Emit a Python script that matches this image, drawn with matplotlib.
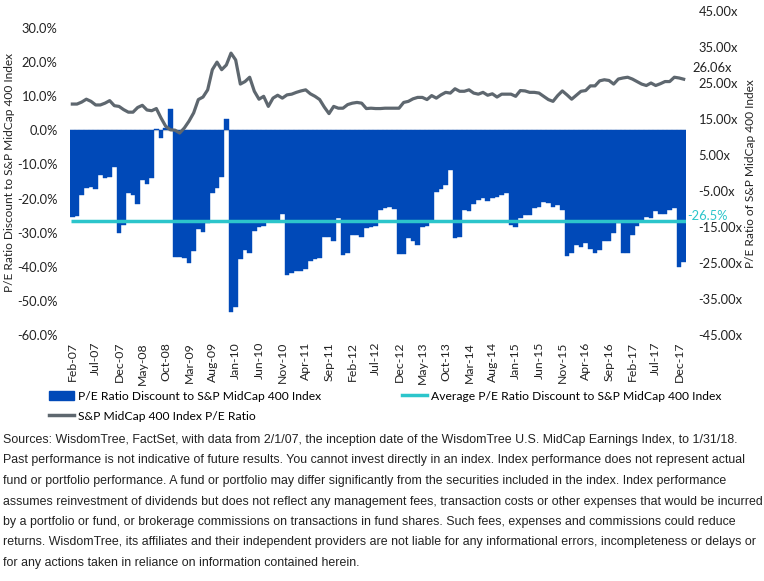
import numpy as np
import pandas as pd
import matplotlib
matplotlib.use("Agg")
import matplotlib.pyplot as plt
from matplotlib.patches import Patch
from matplotlib.lines import Line2D

### Daten
months = pd.date_range("2007-02-01", periods=132, freq="MS").strftime("%b-%y").tolist()

discount = [-25.5, -25.0, -18.9, -16.8, -16.6, -17.1, -13.1, -13.9, -13.6, -10.7,
            -30.0, -27.7, -18.4, -18.9, -21.5, -14.6, -15.6, -13.9, 0.3, -2.2,
            0.8, 6.3, -37.0, -37.0, -37.5, -38.8, -35.3, -28.8, -29.7, -27.3,
            -18.4, -17.0, -13.6, 3.3, -53.2, -51.7, -37.6, -35.0, -35.9, -29.4,
            -28.3, -27.9, -26.2, -26.6, -26.9, -24.5, -42.4, -41.8, -41.2, -41.2,
            -40.7, -38.3, -37.8, -37.3, -31.3, -31.3, -32.4, -25.7, -36.5, -35.9,
            -30.7, -30.7, -31.2, -28.5, -28.2, -27.9, -23.4, -22.9, -22.6, -23.1,
            -36.3, -36.3, -31.7, -32.4, -33.6, -28.2, -27.9, -27.0, -18.0, -17.2,
            -15.9, -11.6, -31.5, -31.2, -23.4, -23.7, -21.5, -20.4, -19.9, -20.7,
            -19.9, -19.6, -19.0, -18.4, -27.8, -28.4, -25.8, -24.8, -24.8, -22.9,
            -22.6, -21.1, -21.4, -22.4, -21.9, -23.4, -36.8, -35.9, -33.7, -34.1,
            -32.9, -34.7, -36.1, -35.0, -32.4, -32.4, -30.0, -27.3, -35.9, -35.9,
            -30.7, -27.9, -26.3, -25.5, -25.7, -23.7, -24.4, -24.4, -23.4, -22.8,
            -40.0, -38.5]

pe_ratio = [19.15, 19.15, 19.7, 20.5, 19.9, 18.9, 18.9, 19.4, 20.1, 18.7,
            18.5, 17.6, 16.9, 16.9, 18.2, 18.8, 17.5, 17.3, 17.9, 15.3,
            13.0, 12.0, 11.9, 11.1, 12.5, 14.4, 16.7, 20.4, 21.1, 23.1,
            28.7, 30.8, 28.7, 30.0, 33.3, 31.4, 24.7, 25.4, 26.6, 22.7,
            20.5, 21.3, 18.5, 20.8, 21.6, 20.8, 21.7, 21.9, 22.4, 22.8,
            23.1, 22.0, 21.3, 20.4, 18.3, 16.5, 18.5, 18.0, 18.0, 19.0,
            19.4, 19.6, 19.4, 17.9, 18.0, 17.9, 17.9, 18.0, 18.0, 18.0,
            18.0, 19.6, 19.9, 20.6, 21.0, 21.0, 20.4, 21.5, 20.8, 21.7,
            22.4, 22.2, 23.4, 22.7, 22.7, 23.1, 22.2, 21.9, 22.4, 21.6,
            22.0, 21.1, 21.9, 21.9, 21.9, 21.3, 22.9, 22.8, 22.4, 22.4,
            22.2, 21.3, 20.4, 19.9, 21.5, 22.8, 21.7, 20.5, 21.6, 22.7,
            22.9, 24.2, 24.2, 25.6, 25.9, 25.7, 24.7, 26.1, 26.4, 26.6,
            26.1, 25.4, 24.7, 24.3, 25.0, 24.3, 24.8, 25.4, 25.4, 26.6,
            26.4, 26.06]

avg_discount = -26.5

left_ticks = [-60, -50, -40, -30, -20, -10, 0, 10, 20, 30]
right_ticks = [-45, -35, -25, -15, -5, 5, 15, 25, 35, 45]

### Farben
blue = "#0049B8"
cyan = "#2CC5CB"
grey = "#5E676F"
txt = "#222222"

chart_font = "Lato"

fig = plt.figure(figsize=(7.64, 5.81), dpi=100)
ax = fig.add_axes([70/764, 1-335/581, 616/764, 324/581])
x = np.arange(len(discount))

ax.bar(x, discount, width=1.0, color=blue, edgecolor=blue, linewidth=0.3, zorder=2)
ax.axhline(0, color="#D9D9D9", lw=1, zorder=1)
ax.plot([-0.3, len(x)-0.5], [avg_discount, avg_discount], color=cyan, lw=2.5, zorder=3,
        solid_capstyle="butt")
ax.set_xlim(-0.5, len(x)-0.5)
ax.set_ylim(-60, 35)
ax.set_yticks(left_ticks)
ax.set_yticklabels(["%.1f%%" % v for v in left_ticks], fontsize=9.3, color=txt, family=chart_font)
ax.set_xticks(x[::5])
ax.set_xticklabels(months[::5], rotation=90, fontsize=8.8, color=txt, family=chart_font)
ax.tick_params(axis="x", length=0, pad=5)
ax.tick_params(axis="y", length=0, pad=9)
for s in ax.spines.values():
    s.set_visible(False)
ax.text(len(x)-0.2, avg_discount-0.3, "%.1f%%" % avg_discount, color=cyan, fontsize=9.3,
        family=chart_font, va="bottom", ha="left")

ax2 = ax.twinx()
ax2.plot(x, pe_ratio, color=grey, lw=2.3, zorder=4)
ax2.set_ylim(-45, 45)
ax2.set_yticks(right_ticks)
ax2.set_yticklabels(["%.2fx" % v for v in right_ticks], fontsize=9.3, color=txt, family=chart_font)
ax2.tick_params(length=0, pad=9)
for s in ax2.spines.values():
    s.set_visible(False)
ax2.text(len(x)+0.9, pe_ratio[-1]+1.5, "%.2fx" % pe_ratio[-1], color=txt, fontsize=9.3,
         family=chart_font, va="bottom", ha="left")

fig.text(10/764, 1-173/581, "P/E Ratio Discount to S&P MidCap 400 Index", rotation=90,
         ha="center", va="center", fontsize=8.6, color=txt, family=chart_font)
fig.text(750/764, 1-174/581, "P/E Ratio of S&P MidCap 400 Index", rotation=90,
         ha="center", va="center", fontsize=8.6, color=txt, family=chart_font)

### Legende
h_bar = Patch(color=blue)
h_avg = Line2D([], [], color=cyan, lw=2.5)
h_pe = Line2D([], [], color=grey, lw=2.5)
leg_kw = dict(loc="center left", frameon=False, handlelength=2.1, handletextpad=0.3,
              borderpad=0, borderaxespad=0, prop={"family": chart_font, "size": 8.7})
fig.legend([h_bar], ["P/E Ratio Discount to S&P MidCap 400 Index"],
           bbox_to_anchor=(49/764, 1-396/581), **leg_kw)
fig.legend([h_avg], ["Average P/E Ratio Discount to S&P MidCap 400 Index"],
           bbox_to_anchor=(402/764, 1-396/581), **leg_kw)
fig.legend([h_pe], ["S&P MidCap 400 Index P/E Ratio"],
           bbox_to_anchor=(49/764, 1-416/581), **leg_kw)

### Quellen
source = [
    "Sources: WisdomTree, FactSet, with data from 2/1/07, the inception date of the WisdomTree U.S. MidCap Earnings Index, to 1/31/18.",
    "Past performance is not indicative of future results. You cannot invest directly in an index. Index performance does not represent actual",
    "fund or portfolio performance. A fund or portfolio may differ significantly from the securities included in the index. Index performance",
    "assumes reinvestment of dividends but does not reflect any management fees, transaction costs or other expenses that would be incurred",
    "by a portfolio or fund, or brokerage commissions on transactions in fund shares. Such fees, expenses and commissions could reduce",
    "returns. WisdomTree, its affiliates and their independent providers are not liable for any informational errors, incompleteness or delays or",
    "for any actions taken in reliance on information contained herein.",
]
for k, line in enumerate(source):
    fig.text(3/764, 1-(440+20.5*k)/581, line, ha="left", va="center", fontsize=8.9,
             color=txt, family="Liberation Sans")

fig.savefig("out.png", dpi=100)
